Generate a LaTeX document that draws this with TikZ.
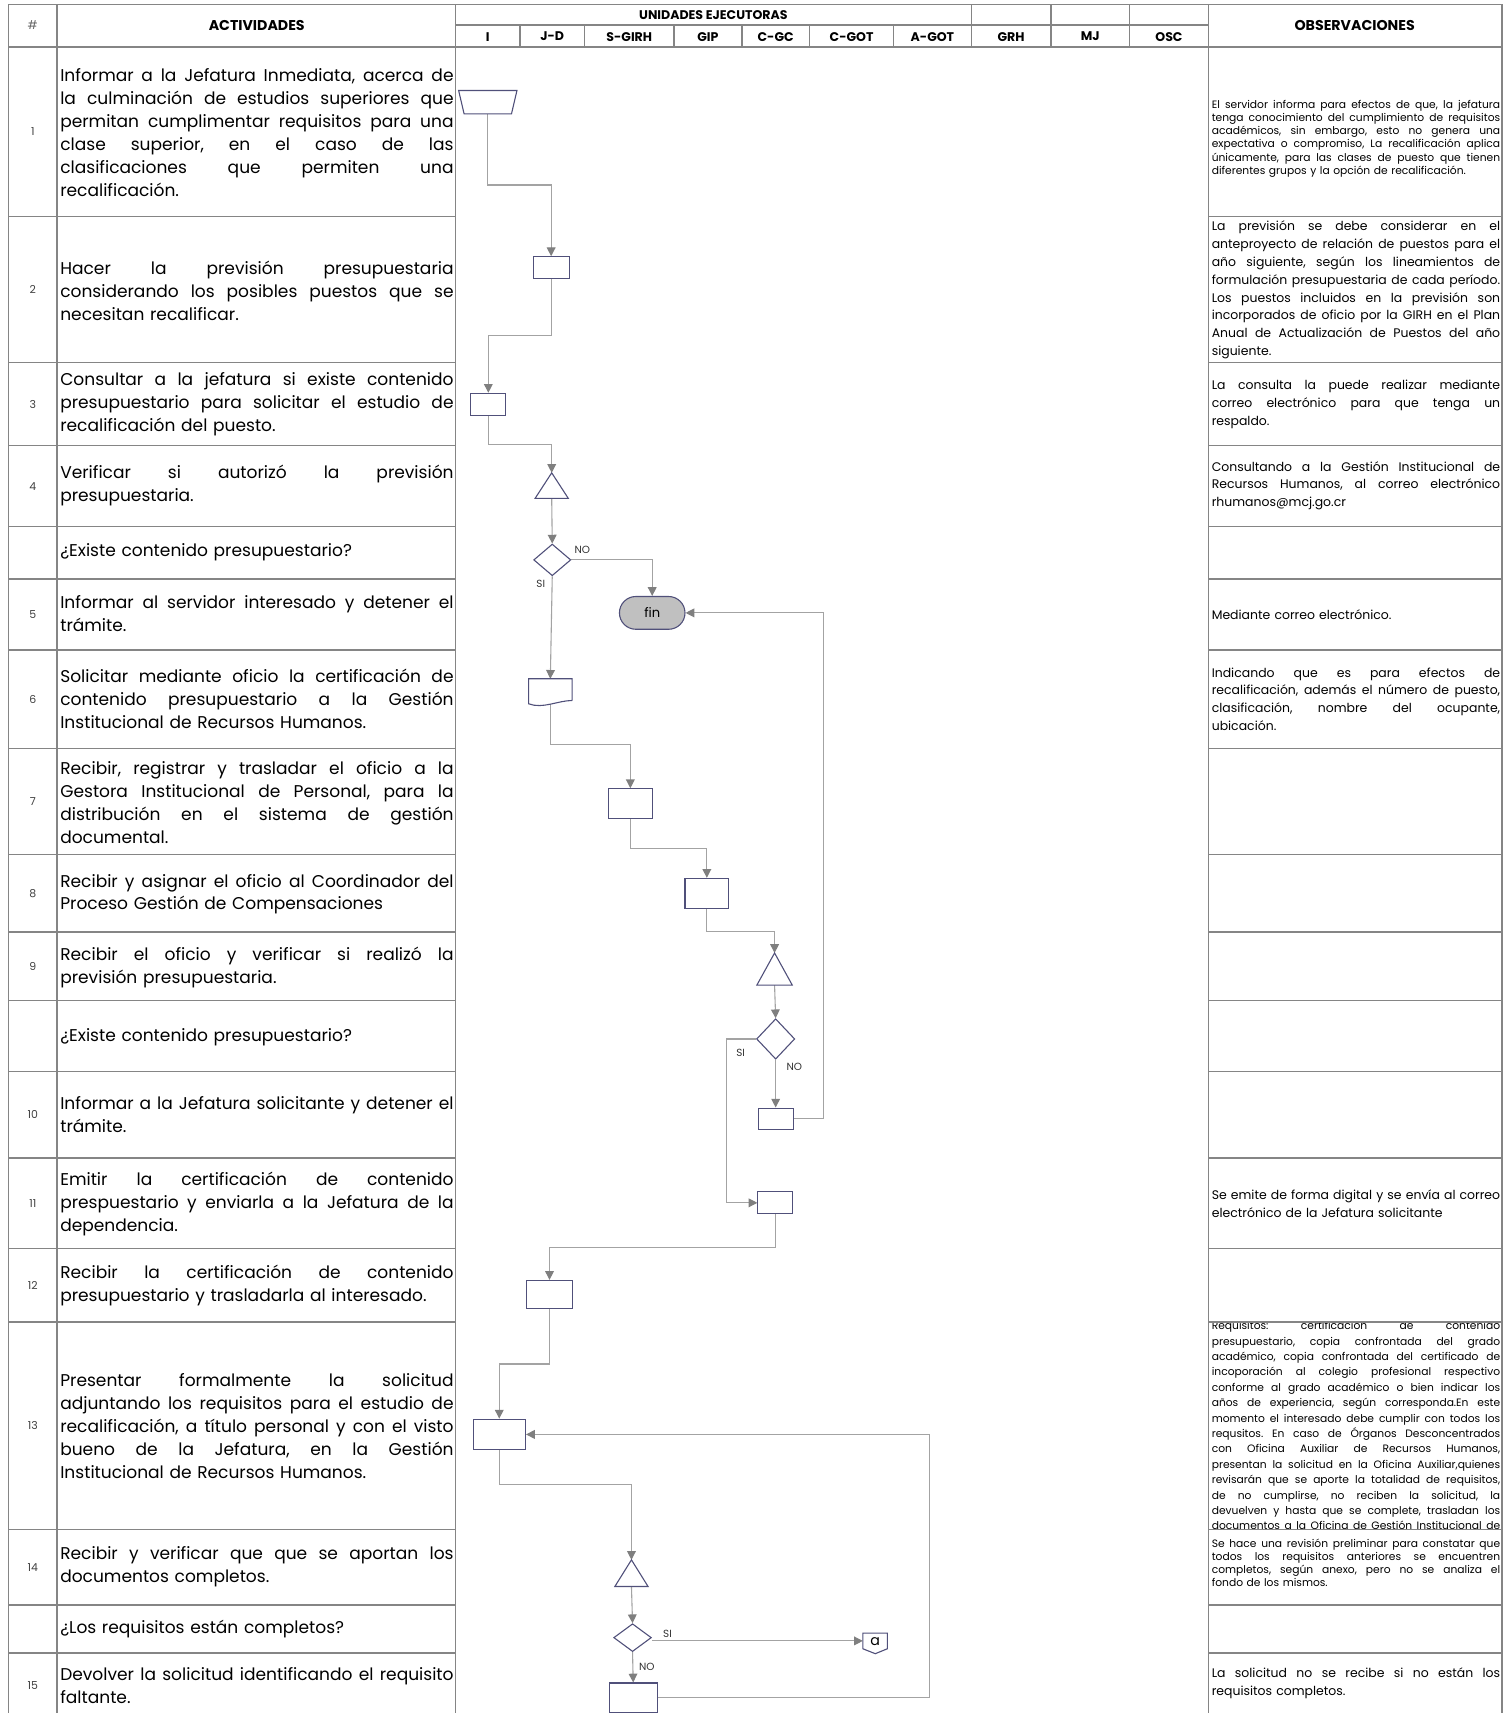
\documentclass[tikz,border=0pt]{standalone}
\usepackage{fontspec}
\setmainfont{Poppins}
\usetikzlibrary{shapes.geometric,shapes.misc,arrows.meta,calc}

\definecolor{gridgray}{HTML}{858585}
\definecolor{shapeblue}{HTML}{50507A}
\definecolor{conngray}{HTML}{A3A3A3}
\definecolor{arrowgray}{HTML}{7F7F7F}
\definecolor{fingray}{HTML}{C0C0C0}

\pgfdeclarelayer{background}
\pgfsetlayers{background,main}

% one justified line of a cell
\newlength{\cellw}
\newcommand{\jl}[1]{\leavevmode\hbox to \cellw{\frenchspacing\spaceskip=0.26em plus 1fil\relax #1}\\}

\tikzset{
  tline/.style={draw=gridgray, line width=1.3pt},
  hdr/.style={font=\bfseries\fontsize{11.5}{13}\selectfont, inner sep=0pt},
  act/.style={anchor=west, text width=360pt, align=left, inner sep=0pt,
    font=\fontsize{15.6}{21}\selectfont, execute at begin node={\setlength{\cellw}{360pt}}},
  obs/.style={anchor=west, text width=264pt, align=left, inner sep=0pt,
    font=\fontsize{11.4}{16.3}\selectfont, execute at begin node={\setlength{\cellw}{264pt}}},
  obssmall/.style={obs, font=\fontsize{9.8}{12}\selectfont},
  num/.style={font=\fontsize{10}{12}\selectfont, text=black!75},
  shp/.style={draw=shapeblue, line width=1pt, fill=white, inner sep=0pt},
  proc/.style={shp, rectangle},
  holder/.style={rectangle, inner sep=0pt},
  decision/.style={shp, diamond},
  term/.style={shp, fill=fingray, rounded rectangle, minimum width=60pt,
    minimum height=30pt, font=\fontsize{12}{14}\selectfont},
  offpage/.style={rectangle, inner sep=0pt, minimum width=22pt, minimum height=14pt,
    font=\fontsize{13}{14}\selectfont},
  flow/.style={draw=conngray, line width=1pt,
    -{Triangle[length=8pt,width=8pt,color=arrowgray]}},
  lbl/.style={font=\fontsize{9.5}{11}\selectfont, text=black!80, inner sep=0pt}
}

\begin{document}
\begin{tikzpicture}[x=1pt, y=-1pt]
  \useasboundingbox (0,0) rectangle (1383,1568);

  % table frame
  \draw[tline] (8,4) -- (1375,4);
  \draw[tline] (8,43) -- (1375,43);
  \draw[tline] (417,23) -- (1106,23);
  \foreach \x in {8, 52, 417, 1106, 1375}
    \draw[tline] (\x,4) -- (\x,1600);
  \foreach \x in {476, 535, 617, 679, 741, 818}
    \draw[tline] (\x,23) -- (\x,43);
  \foreach \x in {889, 962, 1034}
    \draw[tline] (\x,4) -- (\x,43);
  \foreach \y in {198, 332, 408, 482, 530, 595, 685, 782, 853, 916, 981, 1060, 1143, 1210, 1400, 1469, 1513} {
    \draw[tline] (8,\y) -- (417,\y);
    \draw[tline] (1106,\y) -- (1375,\y);
  }

  % header
  \node[hdr, font=\fontsize{11}{13}\selectfont, text=black!60] (hnum) at (30,23) {\#};
  \node[hdr, font=\bfseries\fontsize{13}{15}\selectfont] (hact) at (235,23) {ACTIVIDADES};
  \node[hdr] (hunits) at (653,13.5) {UNIDADES EJECUTORAS};
  \node[hdr, font=\bfseries\fontsize{13}{15}\selectfont] (hobs) at (1240,23) {OBSERVACIONES};
  \foreach \nm/\cx [count=\i] in {I/446.5, J-D/505.5, S-GIRH/576, GIP/648, C-GC/710,
      C-GOT/779.5, A-GOT/853.5, GRH/925.5, MJ/998, OSC/1070}
    \node[hdr] (unit\i) at (\cx,33.5) {\nm};

  % step numbers
  \foreach \n/\y in {1/120.5, 2/265, 3/370, 4/445, 5/562.5, 6/640, 7/733.5, 8/817.5,
      9/884.5, 10/1020.5, 11/1101.5, 12/1176.5, 13/1305, 14/1434.5, 15/1543}
    \node[num] (n\n) at (30,\y) {\n};

  % activities
  \node[act] (a1) at (55,121.5) {\jl{Informar a la Jefatura Inmediata, acerca de}\jl{la culminación de estudios superiores que}\jl{permitan cumplimentar requisitos para una}\jl{clase superior, en el caso de las}\jl{clasificaciones que permiten una}recalificación.};
  \node[act] (a2) at (55,266) {\jl{Hacer la previsión presupuestaria}\jl{considerando los posibles puestos que se}necesitan recalificar.};
  \node[act] (a3) at (55,370) {\jl{Consultar a la jefatura si existe contenido}\jl{presupuestario para solicitar el estudio de}recalificación del puesto.};
  \node[act] (a4) at (55,444.5) {\jl{Verificar si autorizó la previsión}presupuestaria.};
  \node[act] (q1) at (55,505.5) {¿Existe contenido presupuestario?};
  \node[act] (a5) at (55,561.5) {\jl{Informar al servidor interesado y detener el}trámite.};
  \node[act] (a6) at (55,640) {\jl{Solicitar mediante oficio la certificación de}\jl{contenido presupuestario a la Gestión}Institucional de Recursos Humanos.};
  \node[act] (a7) at (55,734.5) {\jl{Recibir, registrar y trasladar el oficio a la}\jl{Gestora Institucional de Personal, para la}\jl{distribución en el sistema de gestión}documental.};
  \node[act] (a8) at (55,818.5) {\jl{Recibir y asignar el oficio al Coordinador del}Proceso Gestión de Compensaciones};
  \node[act] (a9) at (55,885.5) {\jl{Recibir el oficio y verificar si realizó la}previsión presupuestaria.};
  \node[act] (q2) at (55,949) {¿Existe contenido presupuestario?};
  \node[act] (a10) at (55,1020.5) {\jl{Informar a la Jefatura solicitante y detener el}trámite.};
  \node[act] (a11) at (55,1102) {\jl{Emitir la certificación de contenido}\jl{prespuestario y enviarla a la Jefatura de la}dependencia.};
  \node[act] (a12) at (55,1176.5) {\jl{Recibir la certificación de contenido}presupuestario y trasladarla al interesado.};
  \node[act] (a13) at (55,1305.5) {\jl{Presentar formalmente la solicitud}\jl{adjuntando los requisitos para el estudio de}\jl{recalificación, a título personal y con el visto}\jl{bueno de la Jefatura, en la Gestión}Institucional de Recursos Humanos.};
  \node[act] (a14) at (55,1434.5) {\jl{Recibir y verificar que que se aportan los}documentos completos.};
  \node[act] (q3) at (55,1491) {¿Los requisitos están completos?};
  \node[act] (a15) at (55,1543) {\jl{Devolver la solicitud identificando el requisito}faltante.};

  % observations
  \node[obssmall] (o1) at (1109,127) {\jl{El servidor informa para efectos de que, la jefatura}\jl{tenga conocimiento del cumplimiento de requisitos}\jl{académicos, sin embargo, esto no genera una}\jl{expectativa o compromiso, La recalificación aplica}\jl{únicamente, para las clases de puesto que tienen}diferentes grupos y la opción de recalificación.};
  \node[obs] (o2) at (1109,265.5) {\jl{La previsión se debe considerar en el}\jl{anteproyecto de relación de puestos para el}\jl{año siguiente, según los lineamientos de}\jl{formulación presupuestaria de cada período.}\jl{Los puestos incluidos en la previsión son}\jl{incorporados de oficio por la GIRH en el Plan}\jl{Anual de Actualización de Puestos del año}siguiente.};
  \node[obs] (o3) at (1109,370) {\jl{La consulta la puede realizar mediante}\jl{correo electrónico para que tenga un}respaldo.};
  \node[obs] (o4) at (1109,444.5) {\jl{Consultando a la Gestión Institucional de}\jl{Recursos Humanos, al correo electrónico}rhumanos@mcj.go.cr};
  \node[obs] (o5) at (1109,562.5) {Mediante correo electrónico.};
  \node[obs] (o6) at (1109,640) {\jl{Indicando que es para efectos de}\jl{recalificación, además el número de puesto,}\jl{clasificación, nombre del ocupante,}ubicación.};
  \node[obs] (o11) at (1109,1101.5) {\jl{Se emite de forma digital y se envía al correo}electrónico de la Jefatura solicitante};
  \begin{scope}
    \clip (1107,1211) rectangle (1374,1399);
    \node[obssmall, font=\fontsize{9.8}{14.1}\selectfont] (o13) at (1109,1305) {\jl{Requisitos: certificación de contenido}\jl{presupuestario, copia confrontada del grado}\jl{académico, copia confrontada del certificado de}\jl{incoporación al colegio profesional respectivo}\jl{conforme al grado académico o bien indicar los}\jl{años de experiencia, según corresponda.En este}\jl{momento el interesado debe cumplir con todos los}\jl{requsitos. En caso de Órganos Desconcentrados}\jl{con Oficina Auxiliar de Recursos Humanos,}\jl{presentan la solicitud en la Oficina Auxiliar,quienes}\jl{revisarán que se aporte la totalidad de requisitos,}\jl{de no cumplirse, no reciben la solicitud, la}\jl{devuelven y hasta que se complete, trasladan los}\leavevmode\hbox to \cellw{\spaceskip=0.26em plus 1fil\relax documentos a la Oficina de Gestión Institucional de}};
  \end{scope}
  \node[obssmall] (o14) at (1109,1430.5) {\jl{Se hace una revisión preliminar para constatar que}\jl{todos los requisitos anteriores se encuentren}\jl{completos, según anexo, pero no se analiza el}fondo de los mismos.};
  \node[obs] (o15) at (1109,1541) {\jl{La solicitud no se recibe si no están los}requisitos completos.};

  % flow shapes
  \node[holder, minimum width=53pt, minimum height=21pt] (man1) at (446.5,93.5) {};
  \draw[shp] (man1.north west) -- (man1.north east) -- ($(man1.south east)+(-5,0)$) -- ($(man1.south west)+(5,0)$) -- cycle;
  \node[proc, minimum width=33pt, minimum height=20pt] (proc2) at (504.5,245) {};
  \node[proc, minimum width=32pt, minimum height=20pt] (proc3) at (447,370) {};
  \node[holder, minimum width=30pt, minimum height=23pt] (insp4) at (505,444.5) {};
  \draw[shp] (insp4.south west) -- (insp4.north) -- (insp4.south east) -- cycle;
  \node[decision, minimum width=34pt, minimum height=29pt] (dec1) at (505.5,512.5) {};
  \node[term] (fin) at (597,561) {fin};
  \node[holder, minimum width=39.5pt, minimum height=19.5pt] (doc6) at (503.75,631.25) {};
  \draw[shp] (doc6.south east) -- (doc6.north east) -- (doc6.north west) -- ($(doc6.south west)+(0,3)$) .. controls +(13,5) and +(-13,0) .. (doc6.south east);
  \node[proc, minimum width=40pt, minimum height=27pt] (proc7) at (577,735.5) {};
  \node[proc, minimum width=40pt, minimum height=28pt] (proc8) at (647,818) {};
  \node[holder, minimum width=32pt, minimum height=29pt] (insp9) at (709,887) {};
  \draw[shp] (insp9.south west) -- (insp9.north) -- (insp9.south east) -- cycle;
  \node[decision, minimum width=35pt, minimum height=37pt] (dec2) at (710,951) {};
  \node[proc, minimum width=32pt, minimum height=19.5pt] (proc10) at (710,1024) {};
  \node[proc, minimum width=31.5pt, minimum height=20pt] (proc11) at (709.5,1101) {};
  \node[proc, minimum width=42pt, minimum height=26pt] (proc12) at (503,1185) {};
  \node[proc, minimum width=48pt, minimum height=28pt] (proc13) at (457,1313) {};
  \node[holder, minimum width=30pt, minimum height=24pt] (insp14) at (578,1440) {};
  \draw[shp] (insp14.south west) -- (insp14.north) -- (insp14.south east) -- cycle;
  \node[decision, minimum width=34.5pt, minimum height=25.5pt] (dec3) at (579,1499) {};
  \node[offpage] (conA) at (801,1502) {};
  \draw[shp] (conA.north west) -- (conA.north east) -- (conA.south east) -- ++(-11,4.5) -- (conA.south west) -- cycle;
  \node[offpage] (conAtxt) at (801,1503) {a};
  \node[proc, minimum width=44pt, minimum height=27pt] (proc15) at (579.6,1554) {};

  % decision labels
  \node[lbl] (no1) at (533,503) {NO};
  \node[lbl] (si1) at (495,534.5) {SI};
  \node[lbl] (si2) at (678,964) {SI};
  \node[lbl] (no2) at (727,976.5) {NO};
  \node[lbl] (si3) at (611,1496) {SI};
  \node[lbl] (no3) at (592,1525.5) {NO};

  % connectors
  \begin{pgfonlayer}{background}
    \draw[flow] (man1.south) |- ($(man1.south)!.5!(proc2.north)$) -| (proc2.north);
    \draw[flow] (proc2.south) |- ($(proc2.south)!.5!(proc3.north)$) -| (proc3.north);
    \draw[flow] (proc3.south) |- ($(proc3.south)!.5!(insp4.north)$) -| (insp4.north);
    \draw[flow] (insp4.south) -- (dec1.north);
    \draw[flow] (dec1.east) -| (fin.north);                        % NO
    \draw[flow] (dec1.south) -- (doc6.north);                      % SI
    \draw[flow] (doc6.south) |- ($(doc6.south)!.5!(proc7.north)$) -| (proc7.north);
    \draw[flow] (proc7.south) |- ($(proc7.south)!.5!(proc8.north)$) -| (proc8.north);
    \draw[flow] (proc8.south) |- ($(proc8.south)!.5!(insp9.north)$) -| (insp9.north);
    \draw[flow] (insp9.south) -- (dec2.north);
    \draw[flow] (dec2.west) -- ++(-26.6,0) |- (proc11.west);       % SI
    \draw[flow] (dec2.south) -- (proc10.north);                    % NO
    \draw[flow] (proc10.east) -- ++(27,0) |- (fin.east);
    \draw[flow] (proc11.south) |- ($(proc11.south)!.5!(proc12.north)$) -| (proc12.north);
    \draw[flow] (proc12.south) |- ($(proc12.south)!.5!(proc13.north)$) -| (proc13.north);
    \draw[flow] (proc13.south) -- ++(0,31) -| (insp14.north);
    \draw[flow] (insp14.south) -- (dec3.north);
    \draw[flow] (dec3.east |- conA.west) -- (conA.west);           % SI
    \draw[flow] (dec3.south) -- (proc15.north);                    % NO
    \draw[flow] (proc15.east) -- ++(248.4,0) |- (proc13.east);
  \end{pgfonlayer}
\end{tikzpicture}
\end{document}
